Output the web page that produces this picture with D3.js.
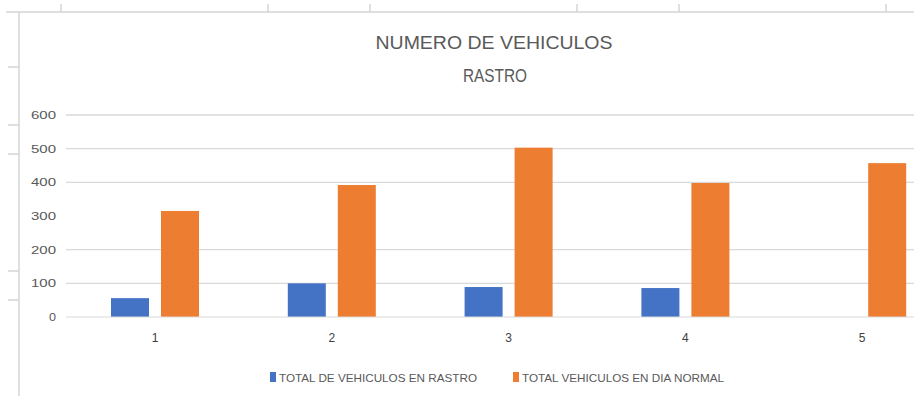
<!DOCTYPE html>
<html>
<head>
<meta charset="utf-8">
<script src="https://cdn.jsdelivr.net/npm/d3@7"></script>
<style>
  body { margin: 0; background: #fff; }
  svg { display: block; font-family: "Liberation Sans Narrow", "Liberation Sans", Arial, sans-serif; }
</style>
</head>
<body>
<div id="chart"></div>
<script>
// data
var categorias = ["1", "2", "3", "4", "5"];
var enRastro = [56, 100, 89, 86, 0];
var diaNormal = [315, 392, 503, 398, 457];
var series = ["rastro", "normal"];
var nombresSerie = ["TOTAL DE VEHICULOS EN RASTRO", "TOTAL VEHICULOS EN DIA NORMAL"];
var coloresSerie = ["#4472C4", "#ED7D31"];
var yTicks = [0, 100, 200, 300, 400, 500, 600];
var lineasGuia = [100, 200, 400, 500, 600];   // the 300 line does not show in the picture

var W = 914, H = 396;

var svg = d3.select("#chart").append("svg")
    .attr("width", W)
    .attr("height", H);

// sheet frame round the chart
var frame = svg.append("g").attr("stroke", "#d4d4d4").attr("stroke-width", 1.5);
frame.append("line").attr("x1", 6).attr("x2", W).attr("y1", 12).attr("y2", 12);
frame.append("line").attr("x1", 19).attr("x2", 19).attr("y1", 12).attr("y2", H);
[61, 268, 370, 577, 679, 886].forEach(function (x) {
  frame.append("line").attr("x1", x).attr("x2", x).attr("y1", 4).attr("y2", 12);
});
[67, 125, 154, 271, 300].forEach(function (y) {
  frame.append("line").attr("x1", 8).attr("x2", 19).attr("y1", y).attr("y2", y);
});

// scales
var x0 = d3.scaleBand()
    .domain(categorias)
    .range([66.6, 950.6]);

var x1 = d3.scaleBand()
    .domain(series)
    .range([0, x0.bandwidth()])
    .paddingInner(0.24)
    .paddingOuter(0.888);

var y = d3.scaleLinear()
    .domain([0, 600])
    .range([317, 115]);

// grid
svg.append("g")
    .selectAll("line")
    .data(lineasGuia)
    .join("line")
    .attr("x1", 66).attr("x2", W)
    .attr("y1", function (d) { return y(d); })
    .attr("y2", function (d) { return y(d); })
    .attr("stroke", "#d9d9d9")
    .attr("stroke-width", 1.3);

// y axis labels
var yAxis = svg.append("g")
    .attr("transform", "translate(56,0)")
    .call(d3.axisLeft(y).tickValues(yTicks).tickSize(0).tickPadding(0));
yAxis.select(".domain").remove();
yAxis.selectAll("text")
    .attr("fill", "#595959")
    .style("font-size", "11px")
    .attr("textLength", function (d) { return d === 0 ? 7 : 25; })
    .attr("lengthAdjust", "spacingAndGlyphs");

// bars
var filas = categorias.map(function (c, i) {
  return { cat: c, valores: [enRastro[i], diaNormal[i]] };
});

var grupos = svg.append("g")
    .selectAll("g")
    .data(filas)
    .join("g")
    .attr("transform", function (d) { return "translate(" + x0(d.cat) + ",0)"; });

grupos.selectAll("rect")
    .data(function (d) {
      return series.map(function (s, j) { return { serie: s, valor: d.valores[j], j: j }; });
    })
    .join("rect")
    .attr("x", function (d) { return x1(d.serie); })
    .attr("width", x1.bandwidth())
    .attr("y", function (d) { return y(d.valor); })
    .attr("height", function (d) { return y(0) - y(d.valor); })
    .attr("fill", function (d) { return coloresSerie[d.j]; });

// x axis
var xAxis = svg.append("g")
    .attr("transform", "translate(0," + y(0) + ")")
    .call(d3.axisBottom(x0).tickSize(0).tickPadding(16));
xAxis.select(".domain").attr("stroke", "#d9d9d9").attr("d", "M66,0H" + W);
xAxis.selectAll("text")
    .attr("fill", "#404040")
    .style("font-size", "12px");

// title
var titulo = svg.append("g").attr("fill", "#595959").attr("text-anchor", "middle");
titulo.append("text")
    .attr("x", 494).attr("y", 49)
    .style("font-size", "19px")
    .attr("textLength", 237)
    .attr("lengthAdjust", "spacingAndGlyphs")
    .text("NUMERO DE VEHICULOS");
titulo.append("text")
    .attr("x", 495).attr("y", 82)
    .style("font-size", "19px")
    .attr("textLength", 64)
    .attr("lengthAdjust", "spacingAndGlyphs")
    .text("RASTRO");

// legend
var leyendaX = [270, 513];
var leyendaAncho = [198, 202];
var leyenda = svg.append("g")
    .selectAll("g")
    .data(nombresSerie)
    .join("g")
    .attr("transform", function (d, i) { return "translate(" + leyendaX[i] + ",372)"; });
leyenda.append("rect")
    .attr("width", 6).attr("height", 10)
    .attr("fill", function (d, i) { return coloresSerie[i]; });
leyenda.append("text")
    .attr("x", 9).attr("y", 9.5)
    .attr("fill", "#595959")
    .style("font-size", "11px")
    .attr("textLength", function (d, i) { return leyendaAncho[i]; })
    .attr("lengthAdjust", "spacingAndGlyphs")
    .text(function (d) { return d; });
</script>
</body>
</html>
